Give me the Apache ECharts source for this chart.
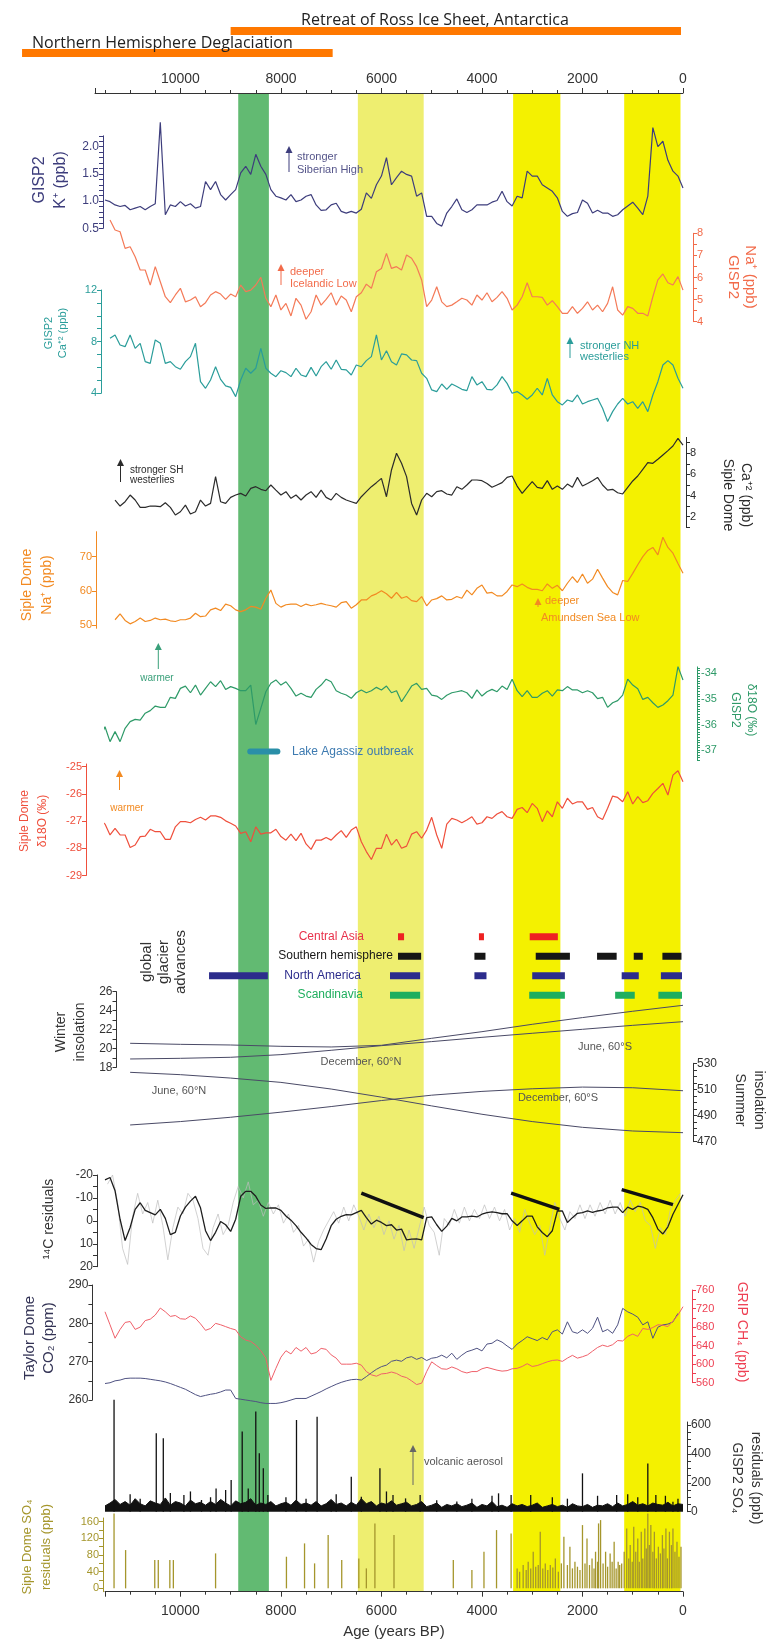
<!DOCTYPE html>
<html>
<head>
<meta charset="utf-8">
<script src="https://cdn.jsdelivr.net/npm/echarts@6.0.0/dist/echarts.min.js"></script>
<style>
html,body{margin:0;padding:0;background:#fff;}
#chart{width:771px;height:1644px;}
</style>
</head>
<body>
<div id="chart"></div>
<script>
// ---- data (ages in years BP, 100-yr steps from each start age) ----
const STEP = 100;

const kStart = 11500;
const kPlus = [1.02,
  0.99,0.93,0.90,0.92,0.84,0.87,0.90,0.84,0.90,0.95,
  2.45,0.75,0.93,0.90,0.99,0.91,0.95,0.87,0.90,1.36,
  1.21,1.36,1.12,1.02,1.12,1.21,1.52,1.64,1.49,1.86,
  1.64,1.49,1.21,1.09,1.06,1.02,1.12,0.99,1.02,1.09,
  1.12,0.93,0.83,0.84,0.93,0.96,0.81,0.78,0.81,0.78,
  0.85,1.15,1.05,1.30,1.46,1.80,1.30,1.43,1.55,1.49,
  1.46,1.09,1.15,0.72,0.72,0.59,0.54,0.78,0.90,1.04,
  0.84,0.79,0.84,0.93,0.93,0.93,0.98,1.01,1.18,0.99,
  0.91,1.09,1.06,1.55,1.46,1.46,1.30,1.24,1.18,1.06,
  0.81,0.72,0.77,0.79,1.02,0.96,0.78,0.83,0.78,0.78,
  0.72,0.75,0.84,0.91,0.98,0.87,0.75,1.09,2.35,2.00,
  2.10,1.75,1.55,1.46,1.24];

const naStart = 11400;
const gispNa = [
  8.60,8.15,8.07,7.32,7.39,6.94,6.34,6.34,5.66,6.49,
  5.81,5.13,4.86,5.21,5.51,4.90,4.98,5.13,4.68,4.86,
  5.21,5.36,5.25,5.01,5.25,5.13,5.66,5.36,5.43,5.66,
  6.01,5.06,4.68,5.21,4.53,4.83,4.26,5.06,4.75,4.11,
  4.45,5.21,4.75,5.01,5.31,4.75,5.16,4.98,4.45,5.13,
  5.31,5.70,5.51,6.26,6.41,7.09,6.41,6.49,6.34,7.02,
  6.87,6.49,5.89,4.68,4.98,5.58,4.90,4.68,4.75,4.90,
  5.06,4.98,4.75,5.21,4.98,5.31,4.90,5.10,5.36,5.06,
  4.53,4.75,5.13,5.76,5.13,5.13,5.10,4.75,4.95,4.68,
  4.38,4.38,4.68,4.38,4.60,4.90,4.53,4.75,4.45,4.83,
  5.58,4.53,4.30,4.68,4.60,4.38,4.38,4.26,5.13,5.89,
  6.16,5.76,5.66,6.04,5.43];

const caStart = 11400;
const gispCa = [
  8.26,8.52,7.74,7.61,8.52,7.48,7.87,6.45,6.32,8.13,
  7.87,6.32,6.45,6.06,5.86,6.45,6.84,7.87,4.90,4.39,
  5.03,6.06,5.08,4.57,4.46,3.74,5.03,5.94,5.55,5.94,
  7.48,5.94,5.55,5.29,5.75,5.60,5.29,5.94,5.42,5.29,
  6.01,5.34,6.06,6.45,5.86,6.58,5.86,5.81,5.42,6.19,
  6.06,6.53,6.84,8.52,6.58,7.30,6.45,6.19,7.05,6.97,
  6.58,6.53,5.55,5.16,4.26,4.13,4.72,4.31,4.72,4.52,
  4.31,4.21,5.29,4.65,4.90,4.31,4.26,4.65,5.29,4.77,
  4.00,4.13,3.87,3.54,3.87,4.39,3.87,5.16,3.87,3.35,
  3.10,3.48,3.35,3.87,3.17,3.35,3.48,3.61,2.84,1.81,
  2.58,3.17,3.61,3.17,3.35,2.84,3.35,2.58,3.87,4.90,
  6.19,6.53,6.19,5.16,4.39];

const sipleCaStart = 11300;
const sipleCa = [
  3.58,3.01,3.42,4.05,3.58,2.88,2.88,3.01,3.01,2.95,
  3.32,2.88,2.16,2.47,3.10,2.25,2.47,3.58,3.01,3.26,
  5.79,3.42,3.26,3.83,4.05,4.21,3.96,4.68,4.84,4.59,
  4.46,5.00,4.52,4.05,4.37,3.74,4.05,3.58,4.05,4.37,
  3.83,4.52,3.83,3.58,4.21,3.83,3.58,3.42,3.26,3.89,
  4.37,4.84,5.22,5.63,3.89,6.42,8.00,7.05,5.79,3.26,
  2.16,3.58,4.21,3.89,4.37,4.46,4.15,4.05,4.84,4.59,
  5.00,5.47,5.47,5.41,5.15,4.78,5.00,5.22,5.72,5.85,
  4.90,4.21,4.78,5.31,4.78,4.68,5.41,4.59,4.90,4.59,
  5.09,4.78,5.72,4.90,5.15,5.41,5.72,5.00,4.52,4.59,
  4.27,4.15,4.78,5.38,5.85,6.48,7.11,7.05,7.43,7.84,
  8.25,8.69,9.41,8.78];

const sipleNaStart = 11300;
const sipleNa = [
  51.5,53.2,51.3,50.3,51.0,52.0,51.0,51.3,52.0,51.5,
  51.7,51.2,51.0,51.5,51.5,52.0,53.4,52.4,52.6,54.4,
  54.9,54.2,56.1,55.6,54.4,53.9,54.4,55.4,55.2,54.6,
  57.8,60.2,56.3,55.2,55.9,56.1,56.1,55.4,56.1,55.6,
  55.9,56.3,55.9,55.6,55.2,56.5,56.8,54.9,55.9,57.3,
  57.3,58.5,59.1,60.0,59.1,57.8,59.5,57.8,58.3,57.1,
  56.8,58.3,55.6,57.3,57.7,58.5,57.3,57.5,58.3,57.8,
  60.2,58.8,60.7,61.7,59.3,59.5,58.5,58.5,59.8,61.7,
  61.2,62.0,61.0,60.4,60.4,60.0,62.0,60.7,61.6,60.0,
  62.2,64.1,62.4,64.9,62.2,63.4,66.3,63.7,61.2,59.5,
  58.8,63.0,62.7,65.1,67.6,70.0,71.8,72.7,70.5,75.7,
  72.7,71.0,68.0,65.1];

const gispO18Start = 11600;
const gispO18 = [-36.54,-36.09,
  -36.67,-36.28,-36.67,-36.15,-35.89,-35.80,-35.83,-35.56,-35.46,-35.28,
  -35.33,-35.33,-34.94,-34.98,-34.59,-34.50,-34.76,-34.46,-34.85,-34.59,
  -34.33,-34.52,-34.29,-34.63,-34.52,-34.59,-34.68,-34.68,-34.46,-36.00,
  -35.37,-34.72,-34.39,-34.26,-34.46,-34.33,-34.59,-34.89,-34.78,-34.89,
  -34.94,-34.63,-34.46,-34.23,-34.33,-34.68,-34.78,-34.85,-34.98,-34.76,
  -34.65,-34.76,-34.68,-34.55,-34.65,-34.50,-34.76,-34.68,-35.11,-34.81,
  -34.50,-34.39,-34.63,-34.59,-34.85,-34.89,-35.02,-34.86,-34.76,-34.72,
  -34.68,-34.76,-34.98,-34.65,-34.89,-34.72,-34.63,-34.72,-34.50,-34.63,
  -34.23,-34.68,-34.91,-34.68,-34.94,-34.94,-34.78,-34.68,-34.89,-34.65,
  -34.68,-34.52,-34.65,-34.65,-34.76,-34.68,-34.76,-34.99,-34.94,-35.33,
  -35.15,-35.07,-34.85,-34.23,-34.46,-34.60,-35.02,-34.94,-35.15,-35.33,
  -35.24,-35.07,-34.85,-33.74,-34.26];

const sipleO18Start = 11700;
const sipleO18 = [-26.84,-26.96,-27.11,
  -27.51,-27.27,-27.51,-27.51,-27.97,-27.88,-27.57,-27.55,-27.30,-27.39,
  -27.39,-27.67,-27.67,-27.21,-27.02,-27.02,-27.06,-26.94,-26.86,-26.96,
  -26.81,-26.81,-26.86,-26.99,-27.08,-27.18,-27.45,-27.39,-27.76,-27.21,
  -27.48,-27.43,-27.43,-27.30,-27.57,-27.70,-27.48,-27.72,-27.45,-27.84,
  -28.04,-27.70,-27.70,-27.60,-27.70,-27.51,-27.35,-27.60,-27.33,-27.21,
  -27.76,-28.12,-28.41,-28.00,-28.00,-27.48,-27.88,-27.67,-28.00,-27.92,
  -27.48,-27.39,-27.63,-27.33,-26.86,-27.51,-28.00,-27.11,-26.90,-26.96,
  -27.06,-26.96,-26.84,-27.11,-27.06,-26.84,-26.90,-26.74,-26.65,-26.84,
  -26.90,-26.57,-26.50,-26.69,-26.35,-26.53,-27.02,-26.62,-26.84,-26.29,
  -26.53,-26.16,-26.37,-26.29,-26.29,-26.57,-26.50,-26.84,-26.94,-26.53,
  -26.08,-26.13,-26.29,-25.92,-26.37,-26.10,-26.32,-26.25,-25.98,-25.80,
  -25.61,-26.04,-25.31,-25.15,-25.55];

// glacier advances [older, younger]
const centralAsia = [[5670,5550],[4060,3960],[3050,2490]];
const southernHem = [[5670,5210],[4150,3930],[2930,2250],[1710,1320],[980,800],[410,30]];
const northAmerica = [[9430,8260],[5830,5230],[4150,3910],[3000,2350],[1220,880],[440,20]];
const scandinavia = [[5830,5230],[3060,2350],[1350,960],[490,20]];

// insolation, 1000-yr steps from 11000
const insAges = [11000,10000,9000,8000,7000,6000,5000,4000,3000,2000,1000,0];
const decN60 = [20.54,20.43,20.36,20.22,20.15,20.33,21.07,21.77,22.55,23.26,23.93,24.56];
const junS60 = [18.88,18.95,19.06,19.34,19.80,20.29,20.72,21.17,21.60,22.02,22.44,22.83];
const junN60 = [523.1,521.3,518.7,515.4,510.3,504.1,497.4,491.0,485.4,481.0,478.2,476.9];
const decS60 = [482.8,485.4,488.7,492.6,496.9,501.5,505.6,508.5,510.5,511.8,511.3,509.0];

const c14Start = 11500;
const c14Smooth = [-17.9,
  -18.9,-13.1,-0.7,8.6,2.9,-5.0,-7.9,-4.6,-3.6,-2.6,
  -5.0,-1.1,6.0,5.0,-2.1,-6.0,-8.6,-10.7,-5.7,4.3,
  8.6,5.0,0.3,1.7,4.6,-0.7,-10.7,-12.9,-12.9,-10.7,
  -6.9,-5.4,-5.7,-5.6,-4.6,-2.1,-0.3,2.1,5.0,7.4,
  10.3,12.1,12.6,7.9,2.1,-0.7,-2.0,-2.7,-2.6,-3.6,
  -4.6,-1.4,1.4,-0.3,0.7,2.1,1.7,4.0,3.6,8.3,
  8.0,7.9,8.3,-1.4,-1.7,1.7,4.6,2.3,-1.1,0,
  -1.7,-1.7,-2.1,-1.7,-2.9,-3.6,-3.9,-3.6,-3.1,-3.1,
  0,2.0,0,-2.1,-2.1,2.6,5.1,6.9,4.3,-4.3,
  -4.3,0.7,-1.4,-3.3,-3.6,-4.3,-3.7,-4.3,-4.7,-5.7,
  -6.0,-6.0,-3.6,-6.0,-5.0,-6.4,-6.0,-5.0,-1.4,3.6,
  5.7,2.6,-2.9,-7.1,-11.4];
const c14RawStart = 11450;
const c14Raw = [
  -16,-20,-8,12,19,-2,-12,-3,-8,1,
  -9,2,17,3,-6,-3,-12,-9,-1,12,
  15,3,-3,6,2,-8,-15,-10,-17,-7,
  -9,-2,-8,-3,-7,1,-3,5,2,11,
  8,18,9,4,0,-4,1,-6,0,-7,
  -2,4,-3,3,-2,6,0,8,2,13,
  4,12,3,-6,2,5,15,-1,2,-5,
  1,-6,0,-5,-1,-7,-1,-6,0,-5,
  4,-1,5,-5,1,6,2,15,3,-8,
  -1,4,-4,-1,-7,-1,-7,-2,-8,-3,
  -9,-3,-8,-2,-9,-4,-8,0,2,12,
  3,6,-5,-9,-12];
// thick trend segments [age1, val1, age2, val2]
const c14Trends = [[6400,-12.1,5160,-1.4],[3420,-12.1,2460,-5.0],[1220,-13.6,200,-7.1]];

const co2Start = 11500;
const co2 = [264.3,
  264.5,265.0,265.2,265.6,265.7,265.7,265.7,265.6,265.4,265.2,
  265.0,264.7,264.3,263.8,263.3,262.8,262.1,261.4,260.9,261.2,
  261.5,261.7,262.1,262.6,262.6,260.4,260.2,260.0,259.8,259.6,
  259.3,259.1,259.1,259.1,259.3,259.6,260.0,260.4,260.4,260.4,
  261.0,261.6,262.2,262.9,263.5,264.1,264.6,265.0,265.3,265.4,
  265.2,266.1,267.1,268.0,268.7,269.1,270.1,270.4,270.1,271.0,
  271.3,270.6,271.1,270.3,270.9,271.1,271.7,271.0,272.2,270.6,
  271.7,272.6,273.0,273.5,272.8,274.6,274.8,275.7,275.1,274.1,
  273.2,274.6,275.5,276.5,276.0,275.5,276.3,275.7,277.8,278.3,
  277.2,280.4,277.8,277.4,278.3,277.4,278.7,281.6,277.8,278.4,
  277.4,279.6,283.9,283.0,282.4,281.6,279.6,280.4,276.1,279.0,
  279.6,279.8,280.4,282.6];

const ch4Start = 11500;
const ch4 = [713,
  685,656,675,690,692,675,680,694,697,706,
  721,713,703,705,698,697,704,699,687,673,
  677,688,685,681,677,674,659,652,649,641,
  629,613,565,591,615,629,622,636,628,636,
  622,625,634,632,620,613,600,600,600,602,
  598,584,577,574,579,580,583,580,574,571,
  564,556,559,584,605,597,590,589,594,590,
  584,581,584,584,590,593,590,587,585,586,
  590,591,595,601,595,597,601,605,608,609,
  606,613,619,613,616,620,628,636,641,638,
  642,651,650,660,665,660,677,675,679,685,
  684,681,693,706,724];

// GISP2 SO4 residuals: background (100-yr steps) and spikes [age, ppb]
const so4BaseStart = 11500;
const so4Base = [
  40,60,85,50,70,45,90,55,40,75, 60,50,95,45,70,60,40,80,55,65,
  45,70,50,85,60,40,75,55,65,90, 45,60,50,70,40,55,65,45,80,50,
  60,45,70,40,55,85,50,60,40,65, 45,90,55,70,40,60,50,75,45,55,
  65,40,50,70,35,45,60,30,50,40, 55,35,45,60,30,50,40,70,35,45,
  30,55,40,50,35,45,60,30,40,50, 35,45,30,55,40,35,50,30,45,40,
  55,35,60,40,50,70,45,55,40,60, 50,45,65,40,55,50];
const so4Spikes = [[11320,773],[11000,120],[10800,90],[10480,542],[10340,508],[10200,130],[9930,115],
  [9800,140],[9580,81],[9400,100],[9290,161],[9100,150],[8990,219],[8770,554],[8650,161],[8500,692],
  [8430,404],[8350,300],[8260,115],[7900,100],[7690,634],[7500,90],[7280,657],[7000,80],[6900,120],
  [6600,242],[6400,104],[6030,300],[5900,140],[5770,115],[5520,92],[5230,115],[4900,80],[4500,70],
  [4200,90],[3800,110],[3670,127],[3420,115],[3030,115],[2600,100],[2300,90],[2000,265],[1700,110],
  [1320,115],[1100,120],[900,100],[700,334],[540,115],[350,110],[200,69],[100,90]];

// Siple Dome SO4 residuals [age, ppb]
const sipleSo4 = [[11320,180],[11090,92],[10510,68],[10440,68],[10210,68],[10140,68],[9300,84],
  [7890,76],[7530,108],[7330,60],[7060,128],[6790,68],[6450,72],[6300,48],[6130,156],[5750,128],
  [4570,68],[4200,44],[3960,88],[3710,140],[3420,132],
  [3300,48],[3250,40],[3180,56],[3120,44],[3080,64],[3030,48],[2980,88],[2930,52],[2880,56],[2840,136],
  [2790,48],[2740,60],[2690,44],[2640,56],[2590,50],[2540,72],[2480,40],[2420,60],[2370,124],[2300,56],
  [2250,100],[2200,48],[2150,64],[2100,52],[2050,44],[2000,152],[1950,60],[1910,120],[1860,56],[1810,72],
  [1770,48],[1740,88],[1700,64],[1680,156],[1640,164],[1590,60],[1540,88],[1500,52],[1450,84],[1410,64],
  [1370,112],[1330,48],[1290,64],[1260,56],[1220,60],[1170,88],[1120,144],[1080,72],[1050,104],[1010,64],
  [980,148],[940,88],[900,120],[870,64],[830,136],[800,72],[760,144],[730,96],[700,180],[670,104],
  [640,152],[600,88],[570,136],[530,72],[490,100],[450,84],[410,128],[380,96],[340,144],[310,72],
  [270,136],[230,104],[200,144],[160,88],[120,112],[80,76],[40,100]];

const bands = [[8850,8240],[6470,5160],[3380,2440],[1170,50]];
const topBars = [[9000,40],[13150,6970]];
const lakeAgassiz = [8610,8070];
const ageTicks = [0,2000,4000,6000,8000,10000];

// ---- styling ----
const FONT = '"Liberation Sans", Arial, sans-serif';
const NAVY = '#3d3d7c', NA = '#f26b4a', TEAL = '#2a9d9a', BLACK = '#2b2b2b', ORANGE = '#f28a22';
const GREEN = '#2e9a68', RED = '#ef4f3c', CO2C = '#4f5282', CH4C = '#ee3f52', OLIVE = '#a5962c', GREY = '#333';
const bandColors = ['#62ba72', '#eeee70', '#f4f100', '#f4f100'];

const toPairs = (start, vals) => vals.map((v, i) => [start - i * STEP, v]);
function steps(a, b, s) {
  const out = [];
  for (let v = a; v <= b + 1e-9; v += s) out.push(Math.round(v * 1000) / 1000);
  return out;
}

const grids = [], xAxes = [], yAxes = [], series = [];
function addGrid(g, x, y) {
  grids.push(g);
  const i = grids.length - 1;
  xAxes.push(Object.assign({gridIndex: i, type: 'value', inverse: true, show: false}, x));
  yAxes.push(Object.assign({gridIndex: i}, y));
  return i;
}
function yax(o) {
  return {
    type: 'value', position: o.pos, min: o.min, max: o.max, inverse: !!o.inv, offset: o.off || 0,
    axisLine: {show: true, onZero: false, lineStyle: {color: o.c, width: 1}},
    axisTick: {show: true, length: o.tl || 4, customValues: o.ticks, lineStyle: {color: o.c}},
    axisLabel: {show: true, customValues: o.labels, color: o.c, fontSize: o.fs || 11, fontFamily: FONT,
      margin: o.m || 4, formatter: o.fmt},
    splitLine: {show: false}
  };
}
function line(idx, data, color, width, z) {
  return {type: 'line', xAxisIndex: idx, yAxisIndex: idx, data: data, showSymbol: false, symbol: 'none',
    clip: false, silent: true, z: z || 3, lineStyle: {color: color, width: width || 1.2}};
}
const P = {left: 105, right: 88};
const ageFmt = v => String(v);

// 0: background bands + top age axis
const gBand = addGrid({left: 95, right: 88, top: 93, height: 1499},
  {min: 0, max: 11700, show: true, position: 'top', interval: 2000,
   axisLine: {show: true, onZero: false, lineStyle: {color: GREY}},
   axisTick: {show: true, length: 5, lineStyle: {color: GREY}},
   minorTick: {show: true, splitNumber: 4, length: 3, lineStyle: {color: GREY}},
   axisLabel: {customValues: ageTicks, fontSize: 14, color: GREY, margin: 7, fontFamily: FONT, formatter: ageFmt},
   splitLine: {show: false}},
  {type: 'value', min: 0, max: 1, show: false});
series.push({type: 'custom', xAxisIndex: gBand, yAxisIndex: gBand, z: 0, silent: true,
  data: bands.map((b, i) => [b[0], b[1], i]),
  renderItem: function (p, api) {
    const a = api.coord([api.value(0), 1]), b = api.coord([api.value(1), 0]);
    return {type: 'rect', shape: {x: a[0], y: a[1], width: b[0] - a[0], height: b[1] - a[1]},
      style: {fill: bandColors[api.value(2)]}};
  }});

// 1: deglaciation bars
const gTop = addGrid({left: 14.5, right: 88, top: 20, height: 44}, {min: 0, max: 13300},
  {type: 'category', data: ['ross', 'nh'], inverse: true, show: false});
series.push({type: 'custom', xAxisIndex: gTop, yAxisIndex: gTop, silent: true,
  encode: {x: [0, 1], y: 2},
  data: topBars.map((b, i) => [b[0], b[1], i]),
  renderItem: function (p, api) {
    const a = api.coord([api.value(0), api.value(2)]), b = api.coord([api.value(1), api.value(2)]);
    return {type: 'rect', shape: {x: a[0], y: a[1] - 4, width: b[0] - a[0], height: 8}, style: {fill: '#ff7800'}};
  }});

// panels
const gK = addGrid(Object.assign({top: 135.8, height: 92.5}, P), {min: 0, max: 11500},
  yax({pos: 'left', min: 0.5, max: 2.2, off: 2, c: NAVY, labels: [0.5, 1, 1.5, 2], ticks: steps(0.5, 2.2, 0.1),
       fmt: v => Number(v).toFixed(1), fs: 12}));
series.push(line(gK, toPairs(kStart, kPlus), NAVY));

const gNa = addGrid(Object.assign({top: 233.3, height: 88.4}, P), {min: 0, max: 11500},
  yax({pos: 'right', min: 4, max: 8, off: 10, c: NA, labels: [4, 5, 6, 7, 8], ticks: steps(4, 8, 0.5)}));
series.push(line(gNa, toPairs(naStart, gispNa), '#f47a58'));

const gCa = addGrid(Object.assign({top: 290, height: 103.3}, P), {min: 0, max: 11500},
  yax({pos: 'left', min: 4, max: 12, off: 4, c: TEAL, labels: [4, 8, 12], ticks: steps(4, 12, 1)}));
series.push(line(gCa, toPairs(caStart, gispCa), TEAL));

const gSCa = addGrid(Object.assign({top: 437.4, height: 89.9}, P), {min: 0, max: 11500},
  yax({pos: 'right', min: 1, max: 9.5, off: 3, c: BLACK, labels: [2, 4, 6, 8], ticks: steps(1, 9, 1)}));
series.push(line(gSCa, toPairs(sipleCaStart, sipleCa), BLACK));

const gSNa = addGrid(Object.assign({top: 531.7, height: 96.6}, P), {min: 0, max: 11500},
  yax({pos: 'left', min: 49, max: 77.3, off: 9, c: ORANGE, labels: [50, 60, 70], ticks: [50, 60, 70]}));
series.push(line(gSNa, toPairs(sipleNaStart, sipleNa), ORANGE));

const gGO = addGrid(Object.assign({top: 666.9, height: 93.4}, P), {min: 0, max: 11500},
  yax({pos: 'right', min: -37.4, max: -33.75, off: 14, c: GREEN, labels: [-37, -36, -35, -34],
       ticks: steps(-37.4, -33.8, 0.1), tl: 3}));
series.push(line(gGO, toPairs(gispO18Start, gispO18), GREEN));
series.push({type: 'custom', xAxisIndex: gGO, yAxisIndex: gGO, silent: true, data: [[lakeAgassiz[0], lakeAgassiz[1]]],
  renderItem: function (p, api) {
    const a = api.coord([api.value(0), -37.06]), b = api.coord([api.value(1), -37.06]);
    return {type: 'line', shape: {x1: a[0], y1: a[1], x2: b[0], y2: b[1]},
      style: {stroke: '#2a8fa8', lineWidth: 6, lineCap: 'round'}};
  }});

const gSO = addGrid(Object.assign({top: 764, height: 111.5}, P), {min: 0, max: 11500},
  yax({pos: 'left', min: -29, max: -24.9, off: 19, c: RED, labels: [-29, -28, -27, -26, -25], ticks: steps(-29, -25, 1)}));
series.push(line(gSO, toPairs(sipleO18Start, sipleO18), RED));

// glacier advances
const glacierRows = [centralAsia, southernHem, northAmerica, scandinavia];
const glacierColors = ['#ee2222', '#161616', '#2c2c8c', '#1fae5e'];
const gGl = addGrid(Object.assign({top: 927, height: 78}, P), {min: 0, max: 11500},
  {type: 'category', data: ['Central Asia', 'Southern hemisphere', 'North America', 'Scandinavia'], inverse: true, show: false});
const glData = [];
glacierRows.forEach((row, r) => row.forEach(b => glData.push([b[0], b[1], r])));
series.push({type: 'custom', xAxisIndex: gGl, yAxisIndex: gGl, silent: true, encode: {x: [0, 1], y: 2}, data: glData,
  renderItem: function (p, api) {
    const r = api.value(2);
    const a = api.coord([api.value(0), r]), b = api.coord([api.value(1), r]);
    return {type: 'rect', shape: {x: a[0], y: a[1] - 3.5, width: b[0] - a[0], height: 7},
      style: {fill: glacierColors[r]}};
  }});

// insolation
const gW = addGrid(Object.assign({top: 991.7, height: 75.6}, P), {min: 0, max: 11500},
  yax({pos: 'left', min: 18, max: 26, off: -11.5, c: GREY, labels: [18, 20, 22, 24, 26], ticks: steps(18, 26, 1), fs: 12}));
series.push(line(gW, insAges.map((a, i) => [a, decN60[i]]), '#4a4a66', 1));
series.push(line(gW, insAges.map((a, i) => [a, junS60[i]]), '#4a4a66', 1));
const gS = addGrid(Object.assign({top: 1063.3, height: 78.4}, P), {min: 0, max: 11500},
  yax({pos: 'right', min: 470, max: 530, off: 10, c: GREY, labels: [470, 490, 510, 530], ticks: steps(470, 530, 5), fs: 12}));
series.push(line(gS, insAges.map((a, i) => [a, junN60[i]]), '#4a4a66', 1));
series.push(line(gS, insAges.map((a, i) => [a, decS60[i]]), '#4a4a66', 1));

// 14C residuals
const gC = addGrid(Object.assign({top: 1175, height: 91.7}, P), {min: 0, max: 11500},
  yax({pos: 'left', min: -20, max: 20, inv: true, off: 8, c: GREY, labels: [-20, -10, 0, 10, 20], ticks: steps(-20, 20, 5), fs: 12}));
series.push(line(gC, toPairs(c14RawStart, c14Raw), '#bdbdbd', 0.7));
series.push(line(gC, toPairs(c14Start, c14Smooth), '#1e1e1e', 1.3, 4));
series.push({type: 'custom', xAxisIndex: gC, yAxisIndex: gC, silent: true, z: 5, data: c14Trends,
  renderItem: function (p, api) {
    const a = api.coord([api.value(0), api.value(1)]), b = api.coord([api.value(2), api.value(3)]);
    return {type: 'line', shape: {x1: a[0], y1: a[1], x2: b[0], y2: b[1]}, style: {stroke: '#111', lineWidth: 3.5}};
  }});

// CO2 / CH4
const gCO2 = addGrid(Object.assign({top: 1285, height: 115}, P), {min: 0, max: 11500},
  yax({pos: 'left', min: 260, max: 290, off: 12.6, c: GREY, labels: [260, 270, 280, 290], ticks: steps(260, 290, 5), fs: 12}));
series.push(line(gCO2, toPairs(co2Start, co2), CO2C, 1));
const gCH4 = addGrid(Object.assign({top: 1290, height: 92.7}, P), {min: 0, max: 11500},
  yax({pos: 'right', min: 560, max: 760, off: 9, c: CH4C, labels: steps(560, 760, 40), ticks: steps(560, 760, 20)}));
series.push(line(gCH4, toPairs(ch4Start, ch4), '#f0606a', 1));

// GISP2 SO4
const gSO4 = addGrid(Object.assign({top: 1422, height: 89.7}, P), {min: 0, max: 11500},
  yax({pos: 'right', min: 0, max: 620, off: 4, c: GREY, labels: [0, 200, 400, 600], ticks: steps(0, 600, 50), fs: 12}));
series.push({type: 'line', xAxisIndex: gSO4, yAxisIndex: gSO4, data: toPairs(so4BaseStart, so4Base), showSymbol: false,
  symbol: 'none', silent: true, z: 3, lineStyle: {color: '#111', width: 1}, areaStyle: {color: '#111', opacity: 1}});
series.push({type: 'custom', xAxisIndex: gSO4, yAxisIndex: gSO4, silent: true, z: 4, data: so4Spikes,
  renderItem: function (p, api) {
    const a = api.coord([api.value(0), 0]), b = api.coord([api.value(0), api.value(1)]);
    return {type: 'line', shape: {x1: a[0], y1: a[1], x2: b[0], y2: b[1]}, style: {stroke: '#111', lineWidth: 1.3}};
  }});

// Siple SO4 + bottom age axis
const gSS = addGrid(Object.assign({top: 1518, height: 73.7}, P),
  {min: 0, max: 11500, show: true, position: 'bottom', interval: 2000,
   axisLine: {show: true, onZero: false, lineStyle: {color: GREY}},
   axisTick: {show: true, length: 5, lineStyle: {color: GREY}},
   minorTick: {show: true, splitNumber: 4, length: 3, lineStyle: {color: GREY}},
   axisLabel: {customValues: ageTicks, fontSize: 14, color: GREY, margin: 12, fontFamily: FONT, formatter: ageFmt},
   name: 'Age (years BP)', nameLocation: 'middle', nameGap: 33,
   nameTextStyle: {fontSize: 15, color: GREY, fontFamily: FONT},
   splitLine: {show: false}},
  yax({pos: 'left', min: -8, max: 169, off: 2, c: OLIVE, labels: [0, 40, 80, 120, 160], ticks: steps(0, 160, 20)}));
series.push({type: 'custom', xAxisIndex: gSS, yAxisIndex: gSS, silent: true, z: 3, data: sipleSo4,
  renderItem: function (p, api) {
    const a = api.coord([api.value(0), 0]), b = api.coord([api.value(0), api.value(1)]);
    return {type: 'line', shape: {x1: a[0], y1: a[1], x2: b[0], y2: b[1]}, style: {stroke: OLIVE, lineWidth: 1.3}};
  }});

// ---- text & annotations ----
function txt(x, y, text, color, size, align, rot, family) {
  return {type: 'text', x: x, y: y, rotation: rot || 0, silent: true, z: 10,
    style: {text: text, fill: color, font: size + 'px ' + (family || FONT),
      textAlign: align || 'left', textVerticalAlign: 'middle', align: align || 'left', verticalAlign: 'middle'}};
}
const L = Math.PI / 2, R = -Math.PI / 2;
function arrowUp(x, yTail, yHead, color) {
  return [
    {type: 'line', silent: true, z: 10, shape: {x1: x, y1: yTail, x2: x, y2: yHead + 4}, style: {stroke: color, lineWidth: 1}},
    {type: 'polygon', silent: true, z: 10, shape: {points: [[x - 3.5, yHead + 7], [x + 3.5, yHead + 7], [x, yHead]]}, style: {fill: color}}
  ];
}
const OPEN = '"Open Sans", "Liberation Sans", sans-serif';
const graphics = [
  txt(435, 20, 'Retreat of Ross Ice Sheet, Antarctica', '#222', 16, 'center', 0, OPEN),
  txt(32, 43.5, 'Northern Hemisphere Deglaciation', '#222', 16, 'left', 0, OPEN),
  // axis titles
  txt(40, 180, 'GISP2', NAVY, 16, 'center', L), txt(61, 180, 'K⁺ (ppb)', NAVY, 16, 'center', L),
  txt(733, 277, 'GISP2', NA, 15, 'center', R), txt(750, 277, 'Na⁺ (ppb)', NA, 15, 'center', R),
  txt(49, 333, 'GISP2', TEAL, 11, 'center', L), txt(63, 333, 'Ca⁺² (ppb)', TEAL, 11, 'center', L),
  txt(728, 495, 'Siple Dome', BLACK, 14, 'center', R), txt(746, 495, 'Ca⁺² (ppb)', BLACK, 14, 'center', R),
  txt(27, 585, 'Siple Dome', ORANGE, 14, 'center', L), txt(47, 585, 'Na⁺ (ppb)', ORANGE, 14, 'center', L),
  txt(735, 710, 'GISP2', GREEN, 12, 'center', R), txt(751, 710, 'δ18O (‰)', GREEN, 12, 'center', R),
  txt(25, 821, 'Siple Dome', RED, 12, 'center', L), txt(43, 821, 'δ18O (‰)', RED, 12, 'center', L),
  txt(147, 962, 'global', GREY, 15, 'center', L), txt(164, 962, 'glacier', GREY, 15, 'center', L),
  txt(181, 962, 'advances', GREY, 15, 'center', L),
  txt(61, 1032, 'Winter', GREY, 14, 'center', L), txt(80, 1032, 'insolation', GREY, 14, 'center', L),
  txt(740, 1100, 'Summer', GREY, 14, 'center', R), txt(759, 1100, 'insolation', GREY, 14, 'center', R),
  txt(49, 1219, '¹⁴C residuals', GREY, 14, 'center', L),
  txt(30, 1338, 'Taylor Dome', '#333355', 15, 'center', L), txt(49, 1338, 'CO₂ (ppm)', '#333355', 15, 'center', L),
  txt(742, 1332, 'GRIP CH₄ (ppb)', CH4C, 14, 'center', R),
  txt(737, 1478, 'GISP2 SO₄', GREY, 14, 'center', R), txt(756, 1478, 'residuals (ppb)', GREY, 14, 'center', R),
  txt(27, 1547, 'Siple Dome SO₄', OLIVE, 13, 'center', L), txt(46, 1547, 'residuals (ppb)', OLIVE, 13, 'center', L),
  // glacier labels
  txt(364, 936.5, 'Central Asia', '#e8304a', 12, 'right'),
  txt(393, 956, 'Southern hemisphere', '#161616', 12, 'right'),
  txt(361, 975.5, 'North America', '#2c2c8c', 12, 'right'),
  txt(363, 995, 'Scandinavia', '#1fae5e', 12, 'right'),
  // insolation labels
  txt(361, 1062, 'December, 60°N', '#555', 11, 'center'),
  txt(605, 1047, 'June, 60°S', '#555', 11, 'center'),
  txt(179, 1091, 'June, 60°N', '#555', 11, 'center'),
  txt(558, 1098, 'December, 60°S', '#555', 11, 'center'),
  // annotations
  txt(297, 157, 'stronger', '#55558a', 11), txt(297, 170, 'Siberian High', '#55558a', 11),
  txt(290, 272, 'deeper', NA, 11), txt(290, 284, 'Icelandic Low', NA, 11),
  txt(580, 346, 'stronger NH', TEAL, 11), txt(580, 357, 'westerlies', TEAL, 11),
  txt(130, 470.5, 'stronger SH', BLACK, 10), txt(130, 480.5, 'westerlies', BLACK, 10),
  txt(545, 601, 'deeper', ORANGE, 11), txt(541, 618, 'Amundsen Sea Low', ORANGE, 11),
  txt(157, 678, 'warmer', '#3aa07a', 10, 'center'),
  txt(292, 752, 'Lake Agassiz outbreak', '#3d7ab0', 12),
  txt(127, 808, 'warmer', ORANGE, 10, 'center'),
  txt(424, 1462, 'volcanic aerosol', '#555', 11)
].concat(
  arrowUp(289, 172, 146, NAVY),
  arrowUp(281, 285, 264, NA),
  arrowUp(570, 358, 337, TEAL),
  arrowUp(120.5, 482, 459, BLACK),
  arrowUp(538, 607, 598, ORANGE),
  arrowUp(158.3, 669, 643, '#3aa07a'),
  arrowUp(119.5, 790, 770, ORANGE),
  arrowUp(413, 1485, 1445, '#666')
);

const chart = echarts.init(document.getElementById('chart'), null, {width: 771, height: 1644});
chart.setOption({
  animation: false,
  backgroundColor: '#fff',
  grid: grids,
  xAxis: xAxes,
  yAxis: yAxes,
  series: series,
  graphic: {elements: graphics}
});
</script>
</body>
</html>
